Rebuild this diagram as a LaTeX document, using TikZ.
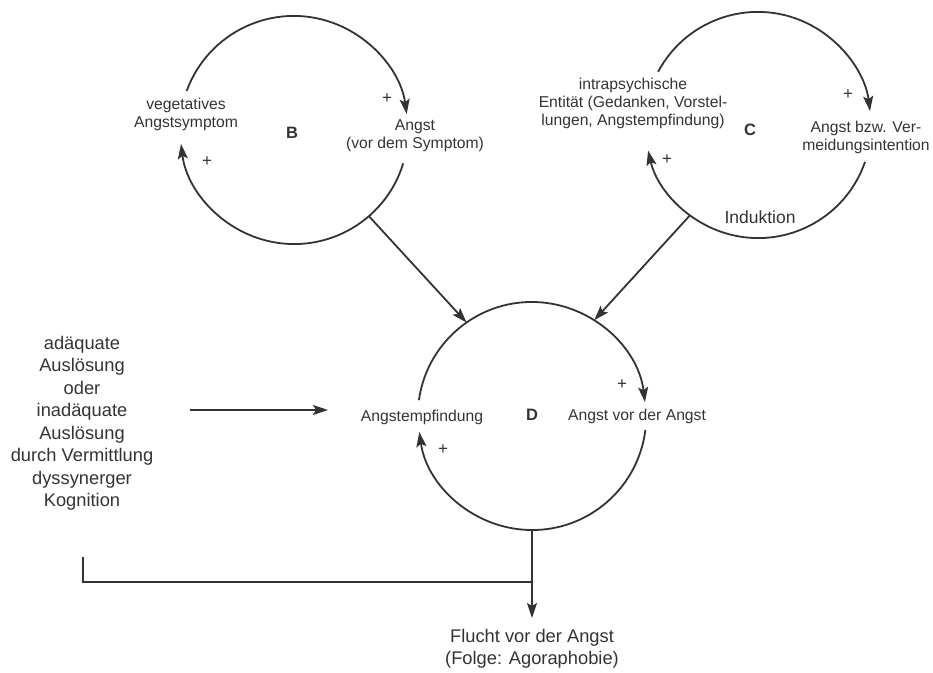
\documentclass[tikz,border=0pt]{standalone}
\usepackage{fontspec}
\setmainfont{Liberation Sans}
\usetikzlibrary{arrows.meta}
\definecolor{ink}{HTML}{333333}
\tikzset{
  ln/.style={draw=ink, line width=1.8pt},
  arr/.style={ln, -{Stealth[length=15pt,width=10pt,inset=3pt]}},
  ring/.style={circle, draw=none, inner sep=0pt, minimum size=#1},
  lbl/.style={text=ink, align=center, inner sep=0pt, font=\fontsize{15.7}{18}\selectfont},
  big/.style={text=ink, align=center, inner sep=0pt, font=\fontsize{18.3}{22.5}\selectfont},
  loopname/.style={text=ink, inner sep=0pt, font=\fontsize{16.5}{18}\selectfont\bfseries},
  plus/.style={text=ink, inner sep=0pt, font=\fontsize{17}{17}\selectfont}
}
\begin{document}
\begin{tikzpicture}[x=1pt,y=-1pt]
\useasboundingbox (0,0) rectangle (933,672);
% circles (invisible reference shapes)
\node[ring=228pt] (cB) at (294,130) {};
\node[ring=226pt] (cC) at (758,125) {};
\node[ring=228pt] (cD) at (532,416) {};
% loop B (y axis flipped: arc angles negated)
\draw[arr] (cB.160) arc[start angle=-160, end angle=-8, radius=114];
\draw[arr] (cB.-17) arc[start angle=17, end angle=173, radius=114];
\node[lbl] (vs) at (186,114) {vegetatives\\Angstsymptom};
\node[lbl] (av) at (415,136) {Angst\\(vor dem Symptom)};
\node[loopname] (lB) at (292,133) {B};
\node[plus] (pB1) at (387,99) {+};
\node[plus] (pB2) at (207,162) {+};
% loop C
\draw[arr] (cC.152) arc[start angle=-152, end angle=-7, radius=113];
\draw[arr] (cC.-19) arc[start angle=19, end angle=167, radius=113];
\node[lbl] (ie) at (633,103) {intrapsychische\\Entität (Gedanken, Vorstel-\\lungen, Angstempfindung)};
\node[lbl] (ab) at (866,137) {Angst bzw. Ver-\\meidungsintention};
\node[loopname] (lC) at (750,130) {C};
\node[plus] (pC1) at (848,95) {+};
\node[plus] (pC2) at (667,160) {+};
\node[text=ink, inner sep=0pt, font=\fontsize{17.5}{20}\selectfont] (ind) at (760,217) {Induktion};
% loop D
\draw[arr] (cD.172) arc[start angle=-172, end angle=-7, radius=114];
\draw[arr] (cD.-7) arc[start angle=7, end angle=172, radius=114];
\node[lbl] (ae) at (422,417) {Angstempfindung};
\node[lbl] (aa) at (637,416) {Angst vor der Angst};
\node[loopname] (lD) at (532,415) {D};
\node[plus] (pD1) at (622,385) {+};
\node[plus] (pD2) at (443,450) {+};
% connectors between loops
\draw[arr] (cB.-49) -- (cD.125);
\draw[arr] (cC.233) -- (cD.57);
% left input
\node[big] (trig) at (82,423.5) {adäquate\\Auslösung\\oder\\inadäquate\\Auslösung\\durch Vermittlung\\dyssynerger\\Kognition};
\coordinate (t1) at (190,410);
\coordinate (t2) at (328,410);
\draw[arr] (t1) -- (t2);
% output
\coordinate (j) at (532,582);
\coordinate (lc) at (83,557);
\coordinate (tip) at (532,618);
\draw[ln] (lc) |- (j);
\draw[arr] (cD.south) -- (tip);
\node[big] (fl) at (532,649) {Flucht vor der Angst\\(Folge: Agoraphobie)};
\end{tikzpicture}
\end{document}
